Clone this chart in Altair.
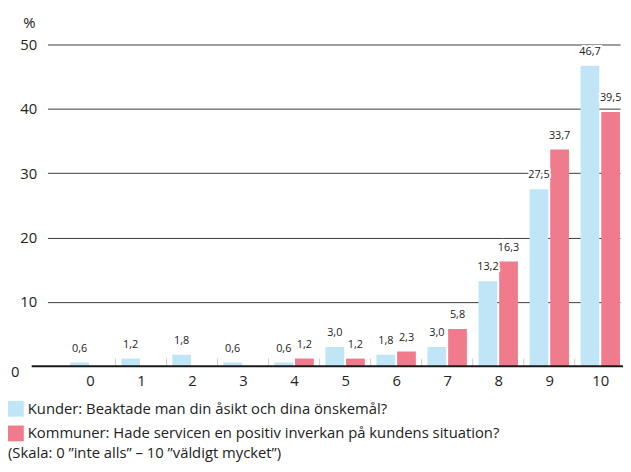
import altair as alt
import pandas as pd

scores = list(range(11))
kunder = [0.6, 1.2, 1.8, 0.6, 0.6, 3.0, 1.8, 3.0, 13.2, 27.5, 46.7]
kommuner = [None, None, None, None, 1.2, 1.2, 2.3, 5.8, 16.3, 33.7, 39.5]
series = ["Kunder: Beaktade man din åsikt och dina önskemål?",
          "Kommuner: Hade servicen en positiv inverkan på kundens situation?"]
colors = ["#c0e5f6", "#f07b8c"]
y_ticks = [0, 10, 20, 30, 40, 50]
note = "(Skala: 0 ”inte alls” – 10 ”väldigt mycket”)"

rows = []
for s, vals in zip(series, [kunder, kommuner]):
    for c, v in zip(scores, vals):
        if v is not None:
            rows.append({"score": c, "serie": s, "value": v})
df = pd.DataFrame(rows)
sep = pd.DataFrame({"score": scores[1:]})
base0 = pd.DataFrame({"v": [y_ticks[0]]})

W, H = 580, 326
FONT = "Open Sans"
TXT = "#222222"
BAR_HALF = 0.386     # outer edge of a bar from the group centre (in score units)
GAP_HALF = 0.019     # inner edge of a bar from the group centre

xscale = alt.Scale(domain=[-0.832, 10.387], nice=False, zero=False)
yscale = alt.Scale(domain=[0, 50], nice=False)

xaxis = alt.Axis(title=None, domain=False, ticks=False, grid=False, labelAngle=0,
                 values=scores, format="d", labelFlush=False, labelOverlap=False,
                 labelPadding=7, labelFontSize=15, labelColor=TXT)
yaxis = alt.Axis(values=y_ticks, title="%", titleAngle=0, titleX=-25, titleY=-22,
                 titleAlign="left", titleBaseline="middle", titleFontWeight="normal",
                 titleFontSize=15, titleColor=TXT,
                 domain=False, ticks=False, labelFontSize=15, labelColor=TXT,
                 labelPadding={"condition": {"test": "datum.value === 0", "value": 29}, "value": 11},
                 labelOffset={"condition": {"test": "datum.value === 0", "value": 5}, "value": 0},
                 grid=True, gridWidth=1,
                 gridColor={"condition": {"test": "datum.value === 0", "value": "transparent"},
                            "value": "#3a3a3a"})

color = alt.Color("serie:N", scale=alt.Scale(domain=series, range=colors),
                  legend=alt.Legend(orient="none", legendX=-40, legendY=361, title=note,
                                    titleOrient="bottom", titleAnchor="start", titleFontWeight="normal",
                                    titleFontSize=15, titleColor=TXT, titlePadding=5, titleLimit=0,
                                    symbolType="square", symbolSize=256, symbolStrokeWidth=0,
                                    symbolOpacity=1, labelFontSize=15, labelColor=TXT, labelOffset=4,
                                    rowPadding=9, padding=0, labelLimit=0))

first = series[0].replace("'", "\\'")
base = alt.Chart(df).transform_calculate(
    side=f"datum.serie === '{first}' ? -1 : 1"
).transform_calculate(
    x_in=f"datum.score + datum.side * {GAP_HALF}",
    x_out=f"datum.score + datum.side * {BAR_HALF}",
    x_mid=f"datum.score + datum.side * {(GAP_HALF + BAR_HALF) / 2}",
    label="replace(format(datum.value, '.1f'), '.', ',')",
)

bars = base.mark_bar().encode(
    x=alt.X("x_out:Q", scale=xscale, axis=xaxis),
    x2="x_in:Q",
    y=alt.Y("value:Q", scale=yscale, axis=yaxis),
    y2=alt.datum(0),
    color=color,
)

halo = base.mark_text(dy=-11, baseline="alphabetic", fontSize=11, stroke="white",
                      strokeWidth=4, fill="white").encode(
    x=alt.X("x_mid:Q", scale=xscale), y=alt.Y("value:Q", scale=yscale), text="label:N")
labels = base.mark_text(dy=-11, baseline="alphabetic", fontSize=11, color=TXT).encode(
    x=alt.X("x_mid:Q", scale=xscale), y=alt.Y("value:Q", scale=yscale), text="label:N")

seps = alt.Chart(sep).transform_calculate(xs="datum.score - 0.5").mark_rule(
    color="#cccccc", strokeWidth=1).encode(
    x=alt.X("xs:Q", scale=xscale), y=alt.datum(0), y2=alt.datum(1.2))

baseline = alt.Chart(base0).mark_rule(color="#1a1a1a", strokeWidth=2).encode(
    y=alt.Y("v:Q", scale=yscale), x=alt.value(-16), x2=alt.value(W + 3))

chart = alt.layer(seps, bars, baseline, halo, labels).properties(
    width=W, height=H,
    autosize=alt.AutoSizeParams(type="none"),
    padding={"left": 40, "top": 34, "right": 3, "bottom": 96},
).configure(font=FONT).configure_view(stroke=None)

chart.save("out.html", embed_options={"renderer": "svg", "actions": False})
